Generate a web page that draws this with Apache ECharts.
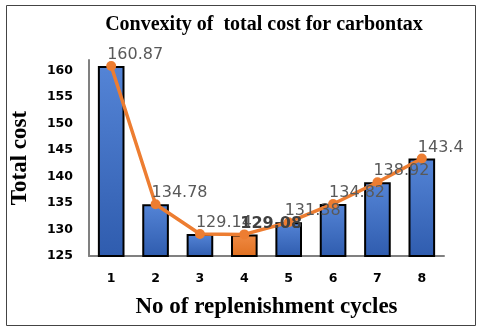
<!DOCTYPE html>
<html>
<head>
<meta charset="utf-8">
<script src="https://cdn.jsdelivr.net/npm/echarts@6/dist/echarts.min.js"></script>
<style>
  html, body { margin: 0; padding: 0; background: #fff; }
  #chart { width: 480px; height: 331px; }
</style>
</head>
<body>
<div id="chart"></div>
<script>
// replenishment cycles and total cost under carbon tax
const cycles = ['1', '2', '3', '4', '5', '6', '7', '8'];
const totalCost = [160.87, 134.78, 129.14, 129.08, 131.38, 134.82, 138.92, 143.4];
const yTicks = { min: 125, max: 162, interval: 5 };

const chart = echarts.init(document.getElementById('chart'));

// the cheapest cycle gets the orange bar and a bold label
const best = totalCost.indexOf(Math.min(...totalCost));

const blueFill = new echarts.graphic.LinearGradient(0, 0, 0, 1, [
  { offset: 0, color: '#5484d6' },
  { offset: 1, color: '#2f5cae' }
]);
const orangeFill = new echarts.graphic.LinearGradient(0, 0, 0, 1, [
  { offset: 0, color: '#f08a43' },
  { offset: 1, color: '#e07020' }
]);

const serif = '"Liberation Serif", "DejaVu Serif", serif';
const sans = '"DejaVu Sans", sans-serif';

chart.setOption({
  animation: false,
  title: {
    text: 'Convexity of  total cost for carbontax',
    left: 259,
    top: 10,
    textAlign: 'center',
    textStyle: { fontFamily: serif, fontWeight: 'bold', fontSize: 20, color: '#000' }
  },
  graphic: [{
    type: 'rect',
    shape: { x: 6.5, y: 5.5, width: 469, height: 320 },
    style: { fill: 'none', stroke: '#444', lineWidth: 1 },
    silent: true
  }],
  grid: { left: 89, right: 36, top: 60, bottom: 75 },
  xAxis: {
    type: 'category',
    data: cycles,
    name: 'No of replenishment cycles',
    nameLocation: 'middle',
    nameGap: 40,
    nameTextStyle: { fontFamily: serif, fontWeight: 'bold', fontSize: 23, color: '#000' },
    axisLine: { lineStyle: { color: '#808080', width: 2 } },
    axisTick: { show: false },
    axisLabel: { margin: 16, fontFamily: sans, fontWeight: 'bold', fontSize: 12.5, color: '#000' }
  },
  yAxis: {
    type: 'value',
    min: yTicks.min,
    max: yTicks.max,
    interval: yTicks.interval,
    name: 'Total cost',
    nameLocation: 'middle',
    nameGap: 57,
    nameTextStyle: { fontFamily: serif, fontWeight: 'bold', fontSize: 23, color: '#000' },
    splitLine: { show: false },
    axisLine: { show: true, lineStyle: { color: '#808080', width: 2 } },
    axisTick: { show: false },
    axisLabel: { margin: 16, showMaxLabel: false, fontFamily: sans, fontWeight: 'bold', fontSize: 12.5, color: '#000' }
  },
  series: [
    {
      type: 'bar',
      barWidth: '60%',
      data: totalCost.map((v, i) => ({
        value: v,
        itemStyle: { color: i === best ? orangeFill : blueFill }
      })),
      itemStyle: { borderColor: '#000', borderWidth: 2 },
      z: 2
    },
    {
      type: 'line',
      data: totalCost.map((v, i) => ({
        value: v,
        label: i === best ? { fontWeight: 'bold', color: '#404040' } : undefined
      })),
      symbol: 'circle',
      symbolSize: 10,
      lineStyle: { color: '#ed7d31', width: 3.5 },
      itemStyle: { color: '#ed7d31' },
      label: {
        show: true,
        position: 'right',
        offset: [-14, -11],
        fontFamily: sans,
        fontSize: 16,
        color: '#595959'
      },
      z: 3
    }
  ]
});
</script>
</body>
</html>
